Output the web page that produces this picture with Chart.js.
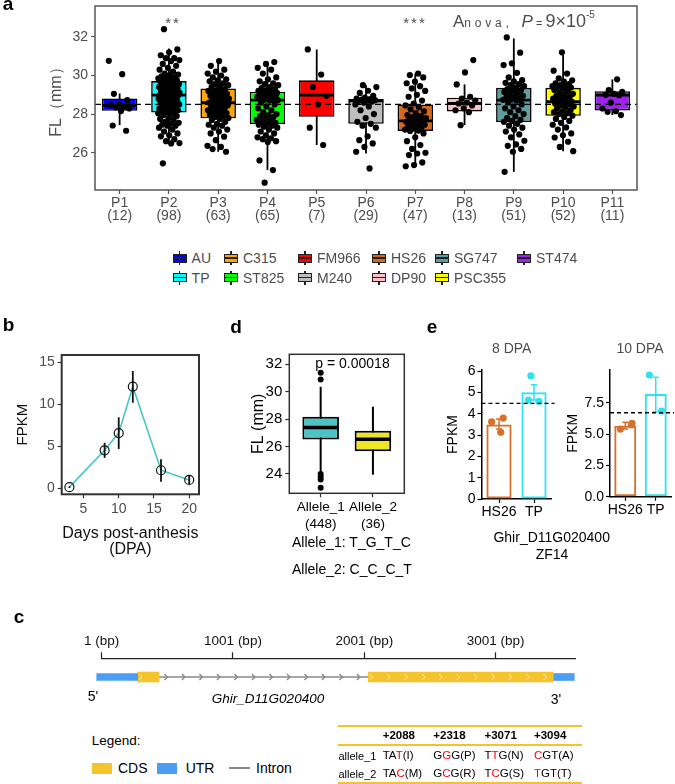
<!DOCTYPE html>
<html><head><meta charset="utf-8">
<script src="https://cdn.jsdelivr.net/npm/chart.js@4.4.1/dist/chart.umd.min.js"></script>
<style>
html,body{margin:0;padding:0;background:#fff;}
#page{position:relative;width:675px;height:784px;overflow:hidden;font-family:"Liberation Sans",Arial,Helvetica,sans-serif;color:#000;}
#page canvas{position:absolute;}
.t{position:absolute;white-space:nowrap;line-height:1;}
.c{transform:translate(-50%,-50%);}
.l{transform:translate(0,-50%);}
</style></head>
<body><div id="page">
<canvas id="cA" width="675" height="235" style="left:0;top:0"></canvas>
<canvas id="cB" width="225" height="225" style="left:0;top:335px"></canvas>
<canvas id="cD" width="200" height="200" style="left:215px;top:335px"></canvas>
<canvas id="cE1" width="120" height="190" style="left:440px;top:335px"></canvas>
<canvas id="cE2" width="115" height="190" style="left:560px;top:335px"></canvas>
<canvas id="cC" width="675" height="80" style="left:0;top:625px"></canvas>
</div>
<script>
// ---------------- DATA ----------------
// Panel a: fibre length per population
const POPS = ['P1','P2','P3','P4','P5','P6','P7','P8','P9','P10','P11'];
const POP_N = [12,98,63,65,7,29,47,13,51,52,11];
const GENOTYPES = ['AU','TP','C315','ST825','FM966','M240','HS26','DP90','SG747','PSC355','ST474'];
const BOX_Q1  = [28.17,28.09,27.78,27.48,27.86,27.50,27.13,28.14,27.59,27.91,28.19];
const BOX_MED = [28.45,28.98,28.59,28.72,28.98,28.69,27.65,28.55,28.73,28.64,28.98];
const BOX_Q3  = [28.81,29.71,29.33,29.16,29.75,28.78,28.50,28.85,29.36,29.36,29.19];
const WHISK_LO = [27.43,26.48,26.05,25.10,26.40,25.96,25.27,27.43,25.01,26.08,27.95];
const WHISK_HI = [29.07,31.40,30.75,30.66,31.35,29.50,30.10,29.54,31.92,31.20,29.80];
const FL_MEAN_LINE = 28.5;
const A_Y_TICKS = [26,28,30,32];
const fl_P1 = [30.76,30.07,29.05,28.73,28.52,28.47,28.38,28.35,28.29,28.16,27.41,27.14];
const fl_P2 = [32.4,31.35,31.2,31.05,30.9,30.9,30.8,30.75,30.6,30.5,30.4,30.3,30.2,30.1,30.05,30.0,29.95,29.9,29.9,29.85,29.8,29.8,29.75,29.72,
 29.7,29.65,29.6,29.55,29.5,29.5,29.45,29.4,29.4,29.35,29.3,29.3,29.25,29.2,29.2,29.15,29.1,29.1,29.05,29.05,29.0,29.0,28.99,28.98,28.98,
 28.95,28.9,28.85,28.8,28.8,28.75,28.7,28.7,28.65,28.6,28.55,28.5,28.5,28.45,28.4,28.4,28.35,28.3,28.3,28.25,28.2,28.15,28.15,28.1,28.1,
 28.05,28.0,27.95,27.9,27.8,27.75,27.7,27.6,27.55,27.5,27.45,27.4,27.4,27.3,27.2,27.1,27.0,26.9,26.85,26.7,26.6,26.5,26.48,25.45];
const fl_P3 = [30.75,30.5,30.3,30.2,30.1,30.0,29.9,29.8,29.75,29.7,29.6,29.55,29.5,29.45,29.4,
 29.3,29.25,29.2,29.15,29.1,29.05,29.0,28.95,28.9,28.85,28.8,28.75,28.7,28.65,28.62,28.6,
 28.55,28.5,28.45,28.4,28.35,28.3,28.25,28.2,28.15,28.1,28.05,28.0,27.95,27.9,27.85,27.8,
 27.75,27.7,27.6,27.5,27.45,27.4,27.3,27.2,27.1,27.0,26.83,26.65,26.36,26.3,26.19,26.05];
const fl_P4 = [30.7,30.6,30.4,30.3,30.1,29.9,29.8,29.7,29.6,29.55,29.5,29.4,29.35,29.3,29.25,29.2,
 29.15,29.1,29.1,29.05,29.0,29.0,28.95,28.9,28.9,28.85,28.85,28.8,28.8,28.75,28.75,28.72,
 28.7,28.6,28.5,28.4,28.3,28.2,28.1,28.0,27.95,27.9,27.85,27.8,27.7,27.65,27.6,27.55,27.5,
 27.45,27.4,27.35,27.3,27.2,27.1,27.0,26.9,26.8,26.75,26.7,26.6,26.55,25.6,25.1,24.45];
const fl_P5 = [31.35,30.05,29.4,28.95,28.5,27.3,26.4];
const fl_P6 = [29.5,29.4,29.21,29.1,28.95,28.85,28.8,28.78,28.75,28.72,28.7,28.69,28.65,28.6,28.5,28.4,28.2,28.0,27.8,27.6,27.5,27.4,27.3,26.85,26.65,26.48,26.3,26.05,25.19];
const fl_P7 = [30.1,30.02,29.9,29.68,29.6,29.45,29.33,29.2,29.0,28.9,28.7,28.55,
 28.45,28.35,28.25,28.15,28.05,27.95,27.9,27.85,27.8,27.75,27.7,27.66,
 27.64,27.6,27.55,27.5,27.45,27.4,27.35,27.3,27.25,27.2,27.15,27.13,
 27.0,26.8,26.6,26.4,26.2,26.0,25.96,25.88,25.5,25.36,25.3];
const fl_P8 = [30.8,30.16,29.54,28.9,28.8,28.7,28.6,28.55,28.45,28.3,28.2,28.1,27.43];
const fl_P9 = [31.97,31.18,30.63,30.54,30.14,29.9,29.76,29.7,29.62,29.55,29.5,29.45,29.38,
 29.3,29.25,29.2,29.15,29.1,29.0,28.95,28.9,28.85,28.8,28.76,28.74,
 28.7,28.6,28.5,28.4,28.3,28.2,28.1,28.0,27.9,27.8,27.7,27.65,27.6,
 27.5,27.4,27.3,27.2,27.1,26.95,26.8,26.62,26.43,26.36,26.2,26.05,25.01];
const fl_P10 = [31.2,30.25,30.1,29.85,29.75,29.68,29.6,29.55,29.5,29.45,29.42,29.4,29.38,
 29.3,29.25,29.2,29.1,29.05,29.0,28.95,28.9,28.85,28.8,28.75,28.7,28.65,
 28.6,28.55,28.5,28.45,28.4,28.35,28.3,28.2,28.15,28.1,28.05,28.0,27.92,
 27.85,27.75,27.65,27.55,27.45,27.31,27.2,27.0,26.9,26.79,26.57,26.3,26.08];
const fl_P11 = [29.8,29.24,29.16,29.05,29.0,28.98,28.6,28.29,28.15,28.12,27.95];
const FL_POINTS = [fl_P1,fl_P2,fl_P3,fl_P4,fl_P5,fl_P6,fl_P7,fl_P8,fl_P9,fl_P10,fl_P11];

// Panel b: expression time course
const DPA = [3,8,10,12,16,20];
const FPKM_MEAN = [0.1,4.5,6.55,12.1,2.12,0.97];
const FPKM_LO = [0.0,3.6,4.65,10.18,0.75,0.48];
const FPKM_HI = [0.2,5.4,8.44,13.96,3.42,1.47];
const B_X_TICKS = [5,10,15,20];
const B_Y_TICKS = [0,5,10,15];

// Panel d: allele box plots
const ALLELES = ['Allele_1','Allele_2'];
const ALLELE_N = [448,36];
const D_Q1 = [26.52,25.66];
const D_MED = [27.39,26.54];
const D_Q3 = [28.17,27.15];
const D_LO = [24.17,23.95];
const D_HI = [30.36,28.9];
const D_OUT_A1 = [31.39,30.9,24.0,23.8,23.6,22.99];
const D_OUT_A2 = [];
const D_Y_TICKS = [24,26,28,30,32];

// Panel e: FPKM of HS26 vs TP
const E_GROUPS = ['HS26','TP'];
const E8_MEAN = [3.5,5.02];
const E8_LO = [3.29,4.65];
const E8_HI = [3.76,5.37];
const E8_REP_HS26 = [3.63,3.8,3.13];
const E8_REP_TP = [5.79,4.65,4.59];
const E8_REF = 4.49;
const E10_MEAN = [5.67,8.2];
const E10_LO = [5.4,6.78];
const E10_HI = [5.94,9.53];
const E10_REP_HS26 = [5.4,5.75,5.86];
const E10_REP_TP = [9.71,6.84];
const E10_REF = 6.7;
const E8_Y_TICKS = [0,1,2,3,4,5,6];
const E10_Y_TICKS = [0,2.5,5,7.5];

// Panel c: gene model (bp)
const PART_TYPE  = ['UTR','CDS','intron','CDS','UTR'];
const PART_START = [-37,275,437,2031,3440];
const PART_END   = [275,437,2031,3440,3600];
const C_X_TICKS = [1,1001,2001,3001];
const SNP_POS = ['+2088','+2318','+3071','+3094'];
const ALLELE1_CODON = ['TAT(I)','GGG(P)','TTG(N)','CGT(A)'];
const ALLELE2_CODON = ['TAC(M)','GCG(R)','TCG(S)','TGT(T)'];
const SNP_IDX = [2,1,1,0];

// ---------------- STYLE ----------------
const SANS = "'Liberation Sans', Arial, Helvetica, sans-serif";
const NARROW = "'Liberation Sans Narrow', 'Arial Narrow', 'Liberation Sans', sans-serif";
const GRAY = '#4D4D4D';
const POP_COLORS = ['#0000FF','#00FFFF','#FFA500','#00FF00','#FF0000','#BEBEBE','#D2691E','#FFC0CB','#5F9EA0','#FFFF00','#A020F0'];
const D_COLORS = ['#4CC4C6','#EEE524'];
const E_COLORS = ['#D8702C','#2BE3F0'];
const CDS_COLOR = '#F5C42C', UTR_COLOR = '#4C9EF4', INTRON_COLOR = '#8A8A8A';

Chart.defaults.animation = false;
Chart.defaults.responsive = false;
Chart.defaults.devicePixelRatio = 1;
Chart.defaults.events = [];
Chart.defaults.plugins.legend.display = false;
Chart.defaults.plugins.tooltip.enabled = false;
Chart.defaults.font.family = SANS;

function fit(size){ return s => { if (s.isHorizontal()) s.height = size; else s.width = size; s.paddingTop = 0; s.paddingBottom = 0; s.paddingLeft = 0; s.paddingRight = 0; }; }
function setTicks(vals){ return s => { s.ticks = vals.map(v => ({value: v})); }; }
function framePlugin(color, width){ return {id:'frame', afterDraw(c){ const a=c.chartArea, x=c.ctx; x.save(); x.strokeStyle=color; x.lineWidth=width; x.strokeRect(a.left, a.top, a.right-a.left, a.bottom-a.top); x.restore(); }}; }
function boxPlugin(cfg){ return {id:'box',
  beforeDatasetsDraw(c){ const xs=c.scales.x, ys=c.scales.y, ctx=c.ctx; ctx.save(); ctx.strokeStyle='#000'; ctx.lineWidth=cfg.whisker;
    cfg.lo.forEach((lo,i)=>{ const px=xs.getPixelForValue(i); ctx.beginPath(); ctx.moveTo(px, ys.getPixelForValue(lo)); ctx.lineTo(px, ys.getPixelForValue(cfg.hi[i])); ctx.stroke(); });
    ctx.restore(); },
  afterDatasetDraw(c, args){ if (args.index !== cfg.boxIndex) return; const ys=c.scales.y, ctx=c.ctx; ctx.save(); ctx.strokeStyle='#000'; ctx.lineWidth=cfg.median;
    args.meta.data.forEach((bar,i)=>{ const p=bar.getProps(['x','width'], true); const py=ys.getPixelForValue(cfg.med[i]); ctx.beginPath(); ctx.moveTo(p.x-p.width/2+0.5, py); ctx.lineTo(p.x+p.width/2-0.5, py); ctx.stroke(); });
    if (cfg.ref != null) { const a=c.chartArea, py=ys.getPixelForValue(cfg.ref); ctx.lineWidth=1.3; ctx.setLineDash([6,4]); ctx.beginPath(); ctx.moveTo(a.left, py); ctx.lineTo(a.right, py); ctx.stroke(); }
    ctx.restore(); } }; }
function errPlugin(cfg){ return {id:'err', afterDatasetsDraw(c){ const xs=c.scales.x, ys=c.scales.y, ctx=c.ctx; ctx.save(); ctx.lineWidth=cfg.width;
    cfg.x.forEach((xv,i)=>{ const px=xs.getPixelForValue(xv), y0=ys.getPixelForValue(cfg.lo[i]), y1=ys.getPixelForValue(cfg.hi[i]); ctx.strokeStyle=cfg.colors[i];
      ctx.beginPath(); ctx.moveTo(px,y0); ctx.lineTo(px,y1);
      if (cfg.cap) { ctx.moveTo(px-cfg.cap,y0); ctx.lineTo(px+cfg.cap,y0); ctx.moveTo(px-cfg.cap,y1); ctx.lineTo(px+cfg.cap,y1); }
      ctx.stroke(); });
    if (cfg.ref != null) { const a=c.chartArea, py=ys.getPixelForValue(cfg.ref); ctx.strokeStyle='#000'; ctx.lineWidth=1.3; ctx.setLineDash([4,3]); ctx.beginPath(); ctx.moveTo(a.left, py); ctx.lineTo(a.right+3, py); ctx.stroke(); }
    ctx.restore(); }}; }
const tickGrid = (col, len) => ({display:true, drawOnChartArea:false, drawTicks:true, tickLength:len, tickColor:col, tickWidth:1.2, offset:false});

// ---------------- PANEL a ----------------
const jit = (i,j) => (((j*0.6180339887 + i*0.2718) % 1) - 0.5) * 0.44;
const aPoints = [];
FL_POINTS.forEach((arr,i)=>arr.forEach((v,j)=>aPoints.push({x: i + jit(i,j), y: v})));
new Chart(document.getElementById('cA'), {
  type:'bar',
  data:{datasets:[
    {type:'scatter', data:aPoints, pointRadius:3.1, pointBackgroundColor:'#000', pointBorderWidth:0, order:0},
    {type:'bar', data:BOX_Q1.map((q,i)=>({x:i, y:[q, BOX_Q3[i]]})), backgroundColor:POP_COLORS, borderColor:'#000', borderWidth:1.6, borderSkipped:false, barPercentage:0.72, categoryPercentage:1, order:1}
  ]},
  options:{
    layout:{padding:{left:0,right:38,top:6,bottom:0}},
    scales:{
      x:{type:'linear', offset:false, min:-0.5, max:10.5, afterFit:fit(45), afterBuildTicks:setTicks(POPS.map((_,i)=>i)),
        ticks:{callback:v=>[POPS[v], '('+POP_N[v]+')'], color:GRAY, font:{family:NARROW,size:14,lineHeight:0.95}, padding:2, autoSkip:false, maxRotation:0},
        grid:tickGrid('#555',4), border:{display:false}},
      y:{type:'linear', min:24.07, max:33.6, afterFit:fit(95), afterBuildTicks:setTicks(A_Y_TICKS),
        ticks:{color:GRAY, font:{family:NARROW,size:14}, padding:3},
        grid:tickGrid('#555',4), border:{display:false},
        title:{display:true, text:'FL（mm）', color:GRAY, font:{size:16}, padding:{top:47,bottom:0}}}
    }
  },
  plugins:[boxPlugin({lo:WHISK_LO, hi:WHISK_HI, med:BOX_MED, boxIndex:1, whisker:1.8, median:2.8, ref:FL_MEAN_LINE}), framePlugin('#555',1.5)]
});

// ---------------- PANEL b ----------------
new Chart(document.getElementById('cB'), {
  type:'line',
  data:{datasets:[{data:DPA.map((d,i)=>({x:d, y:FPKM_MEAN[i]})), borderColor:'#48C4C8', borderWidth:1.6, pointRadius:4.5,
    pointBackgroundColor:'rgba(0,0,0,0)', pointBorderColor:'#111', pointBorderWidth:1.2, tension:0, fill:false}]},
  options:{
    layout:{padding:{left:0,right:26,top:20,bottom:0}},
    scales:{
      x:{type:'linear', offset:false, min:1.91, max:21.39, afterFit:fit(65.7), afterBuildTicks:setTicks(B_X_TICKS),
        ticks:{color:GRAY, font:{size:14}, padding:2, maxRotation:0}, grid:tickGrid('#333',4), border:{display:false},
        title:{display:true, text:['Days post-anthesis','(DPA)'], color:'#111', font:{size:16,lineHeight:1.05}, padding:{top:0,bottom:1.6}}},
      y:{type:'linear', min:-0.75, max:15.87, afterFit:fit(61.7), afterBuildTicks:setTicks(B_Y_TICKS),
        ticks:{color:GRAY, font:{size:14}, padding:3}, grid:tickGrid('#333',4), border:{display:false},
        title:{display:true, text:'FPKM', color:'#111', font:{size:15}, padding:{top:14,bottom:0}}}
    }
  },
  plugins:[errPlugin({x:DPA, lo:FPKM_LO, hi:FPKM_HI, colors:DPA.map(()=> '#111'), width:1.8, cap:0}), framePlugin('#333',2)]
});

// ---------------- PANEL d ----------------
const dOut = [];
D_OUT_A1.forEach(v=>dOut.push({x:0, y:v}));
D_OUT_A2.forEach(v=>dOut.push({x:1, y:v}));
new Chart(document.getElementById('cD'), {
  type:'bar',
  data:{datasets:[
    {type:'scatter', data:dOut, pointRadius:3, pointBackgroundColor:'#000', pointBorderWidth:0, order:0},
    {type:'bar', data:D_Q1.map((q,i)=>({x:i, y:[q, D_Q3[i]]})), backgroundColor:D_COLORS, borderColor:'#000', borderWidth:2, borderSkipped:false, barPercentage:0.7, categoryPercentage:1, order:1}
  ]},
  options:{
    layout:{padding:{left:0,right:10.7,top:19.3,bottom:0}},
    scales:{
      x:{type:'linear', offset:false, min:-0.6, max:1.6, afterFit:fit(41.7), afterBuildTicks:setTicks([0,1]),
        ticks:{callback:v=>[ALLELES[v], '('+ALLELE_N[v]+')'], color:'#000', font:{size:13.5,lineHeight:1.3}, padding:1, autoSkip:false, maxRotation:0},
        grid:tickGrid('#333',4), border:{display:false}},
      y:{type:'linear', min:22.59, max:32.73, afterFit:fit(74.3), afterBuildTicks:setTicks(D_Y_TICKS),
        ticks:{color:'#000', font:{size:15}, padding:3}, grid:tickGrid('#333',4), border:{display:false},
        title:{display:true, text:'FL (mm)', color:'#000', font:{size:16}, padding:{top:34,bottom:0}}}
    }
  },
  plugins:[boxPlugin({lo:D_LO, hi:D_HI, med:D_MED, boxIndex:1, whisker:2, median:3.5}), framePlugin('#333',1.5)]
});

// ---------------- PANEL e ----------------
const repOffsets8 = [[-0.21,0.12,0.05],[-0.09,-0.16,0.14]];
const repOffsets10 = [[-0.16,0.2,0.22],[-0.21,0.19]];
function ePoints(reps, offs){ const pts=[], cols=[]; reps.forEach((arr,g)=>arr.forEach((v,j)=>{ pts.push({x:g+offs[g][j], y:v}); cols.push(E_COLORS[g]); })); return {pts, cols}; }
function eChart(id, mean, lo, hi, reps, offs, ref, yMax, yTicks, fmt, geo){
  const p = ePoints(reps, offs);
  new Chart(document.getElementById(id), {
    type:'bar',
    data:{datasets:[
      {type:'scatter', data:p.pts, pointRadius:3.6, pointBackgroundColor:p.cols, pointBorderWidth:0, order:0},
      {type:'bar', data:mean.map((m,i)=>({x:i, y:m})), backgroundColor:'rgba(255,255,255,0)', borderColor:E_COLORS, borderWidth:2, borderSkipped:false, barPercentage:0.72, categoryPercentage:1, order:1}
    ]},
    options:{
      layout:{padding:{left:0,right:geo.right,top:geo.top,bottom:0}},
      scales:{
        x:{type:'linear', offset:false, min:-0.5, max:1.5, afterFit:fit(geo.xh), afterBuildTicks:setTicks([0,1]),
          ticks:{callback:v=>E_GROUPS[v], color:'#000', font:{size:14}, padding:1, autoSkip:false, maxRotation:0}, grid:tickGrid('#000',4), border:{display:true,color:'#000',width:1.5}},
        y:{type:'linear', min:0, max:yMax, afterFit:fit(geo.yw), afterBuildTicks:setTicks(yTicks),
          ticks:{callback:fmt, color:'#000', font:{size:14}, padding:2}, grid:tickGrid('#000',4), border:{display:true,color:'#000',width:1.5},
          title:{display:true, text:'FPKM', color:'#000', font:{size:14}, padding:{top:4.6,bottom:0}}}
      }
    },
    plugins:[errPlugin({x:[0,1], lo, hi, colors:E_COLORS, width:1.5, cap:3, ref})]
  });
}
eChart('cE1', E8_MEAN, E8_LO, E8_HI, [E8_REP_HS26,E8_REP_TP], repOffsets8, E8_REF, 6.06, E8_Y_TICKS, v=>String(v), {right:8.5, top:35, xh:26, yw:41.5});
eChart('cE2', E10_MEAN, E10_LO, E10_HI, [E10_REP_HS26,E10_REP_TP], repOffsets10, E10_REF, 10.11, E10_Y_TICKS, v=>v.toFixed(1), {right:3, top:35, xh:28.3, yw:50});

// ---------------- PANEL c ----------------
const geneSets = [];
PART_TYPE.forEach((t,i)=>{ if (t==='intron') return; geneSets.push({data:[[PART_START[i], PART_END[i]]], backgroundColor: t==='CDS'?CDS_COLOR:UTR_COLOR, barThickness: t==='CDS'?10:7, grouped:false, clip:false, borderWidth:0}); });
function chevron(ctx, cx, cy){ ctx.beginPath(); ctx.moveTo(cx-1.5, cy-3); ctx.lineTo(cx+1.5, cy); ctx.lineTo(cx-1.5, cy+3); ctx.stroke(); }
const genePlugin = {id:'gene',
  beforeDatasetsDraw(c){ const xs=c.scales.x, ys=c.scales.y, ctx=c.ctx, cy=ys.getPixelForValue(0); ctx.save(); ctx.strokeStyle=INTRON_COLOR; ctx.lineWidth=1.4;
    PART_TYPE.forEach((t,i)=>{ if (t!=='intron') return; const x0=xs.getPixelForValue(PART_START[i]), x1=xs.getPixelForValue(PART_END[i]);
      ctx.beginPath(); ctx.moveTo(x0,cy); ctx.lineTo(x1,cy); ctx.stroke();
      for (let px=x0+7; px<x1-3; px+=17.5) chevron(ctx, px, cy); });
    ctx.restore(); },
  afterDatasetsDraw(c){ const xs=c.scales.x, ys=c.scales.y, ctx=c.ctx, cy=ys.getPixelForValue(0); ctx.save(); ctx.strokeStyle='#FFF0C0'; ctx.lineWidth=0.9;
    PART_TYPE.forEach((t,i)=>{ if (t!=='CDS') return; const x0=xs.getPixelForValue(PART_START[i]), x1=xs.getPixelForValue(PART_END[i]);
      for (let px=x0+3; px<x1-4; px+=17.4) chevron(ctx, px, cy); });
    ctx.restore(); }};
new Chart(document.getElementById('cC'), {
  type:'bar',
  data:{labels:['gene'], datasets:geneSets},
  options:{
    indexAxis:'y',
    layout:{padding:{left:101.7,right:100,top:0,bottom:9.3}},
    scales:{
      x:{type:'linear', offset:false, position:'top', min:1, max:3606, afterFit:fit(33.3), afterBuildTicks:setTicks(C_X_TICKS),
        ticks:{callback:v=>v+' (bp)', color:'#111', font:{size:13.5}, padding:3, maxRotation:0}, grid:tickGrid('#222',6), border:{display:true,color:'#222',width:1.2}},
      y:{type:'category', display:false}
    }
  },
  plugins:[genePlugin]
});

// ---------------- TEXT ----------------
const page = document.getElementById('page');
function txt(html, x, y, style, anchor){ const d=document.createElement('div'); d.className='t '+(anchor||'c'); d.style.left=x+'px'; d.style.top=y+'px'; Object.assign(d.style, style||{}); d.innerHTML=html; page.appendChild(d); return d; }
function box(x, y, w, h, style){ const d=document.createElement('div'); d.style.position='absolute'; d.style.left=x+'px'; d.style.top=y+'px'; d.style.width=w+'px'; d.style.height=h+'px'; Object.assign(d.style, style||{}); page.appendChild(d); return d; }

// panel labels
txt('a', 8, 3, {fontWeight:'bold', fontSize:'19px'});
txt('b', 8.5, 324, {fontWeight:'bold', fontSize:'19px'});
txt('d', 236, 326, {fontWeight:'bold', fontSize:'19px'});
txt('e', 432, 326, {fontWeight:'bold', fontSize:'19px'});
txt('c', 19, 615.5, {fontWeight:'bold', fontSize:'19px'});

// panel a annotations
txt('**', 173, 22, {fontSize:'15px', color:GRAY, letterSpacing:'2px'});
txt('***', 415, 22, {fontSize:'15px', color:GRAY, letterSpacing:'2px'});
txt('<span style="font-size:17px">A</span><span style="font-size:12px;letter-spacing:3.8px">nova,</span>&nbsp; <i style="font-size:17px">P</i><span style="font-size:11px"> = </span><span style="font-size:18px">9×10</span><sup style="font-size:10px;position:relative;top:-2px">-5</sup>', 453, 20.7, {color:GRAY}, 'l');

// panel a legend
const LEG_COL_X = [172.6, 224, 298, 372, 435, 517];
const LEG_ROW_Y = [258, 277.5];
GENOTYPES.forEach((g,k)=>{
  const col=Math.floor(k/2), row=k%2, x=LEG_COL_X[col], y=LEG_ROW_Y[row];
  box(x+6.3, y-7, 1.4, 14, {background:'#222'});
  box(x, y-4.5, 12, 7, {background:POP_COLORS[k], border:'1px solid #222'});
  box(x+1, y-0.6, 12, 1.3, {background:'#222'});
  txt(g, x+19, y, {fontFamily:NARROW, fontSize:'14px', color:GRAY}, 'l');
});

// panel d texts
txt('p = 0.00018', 352.5, 363, {fontSize:'14px'});
txt('Allele_1: T_G_T_C', 292, 542, {fontSize:'14px'}, 'l');
txt('Allele_2: C_C_C_T', 292, 568.5, {fontSize:'14px'}, 'l');

// panel e texts
txt('8 DPA', 511.7, 348, {fontSize:'14px', color:GRAY});
txt('10 DPA', 640, 348, {fontSize:'14px', color:GRAY});
txt('Ghir_D11G020400', 551.7, 537, {fontSize:'14px'});
txt('ZF14', 552, 553.5, {fontSize:'14px'});

// panel c texts
txt("5'", 93, 695.5, {fontSize:'14px'});
txt("3'", 556, 699, {fontSize:'14px'});
txt('Ghir_D11G020400', 268, 699, {fontSize:'13.5px', fontStyle:'italic'});
txt('Legend:', 91.7, 740.5, {fontSize:'13.5px'}, 'l');
const LEG_C = [['CDS', CDS_COLOR, 91.7, 118], ['UTR', UTR_COLOR, 157, 185.7]];
LEG_C.forEach(([lab, col, bx, tx])=>{ box(bx, 763, 20, 10.7, {background:col}); txt(lab, tx, 768.3, {fontSize:'14px'}, 'l'); });
box(228.7, 767.3, 21.3, 2, {background:INTRON_COLOR});
txt('Intron', 256, 767.5, {fontSize:'14px'}, 'l');

// table
[726, 745, 782.5].forEach(y=>box(338, y-1, 244, 2, {background:CDS_COLOR}));
const COL_X = [382.7, 433.3, 484.5, 534];
SNP_POS.forEach((s,i)=>txt(s, COL_X[i], 736, {fontSize:'11.5px', fontWeight:'bold'}, 'l'));
function codonHtml(c, k){ return c.split('').map((ch,i)=> i===k ? '<span style="color:#FF0000">'+ch+'</span>' : ch).join(''); }
txt('allele_1', 338.5, 755.7, {fontSize:'11px'}, 'l');
txt('allele_2', 338.5, 774.3, {fontSize:'11px'}, 'l');
ALLELE1_CODON.forEach((c,i)=>txt(codonHtml(c, SNP_IDX[i]), COL_X[i], 755.7, {fontSize:'11.5px'}, 'l'));
ALLELE2_CODON.forEach((c,i)=>txt(codonHtml(c, SNP_IDX[i]), COL_X[i], 774.3, {fontSize:'11.5px'}, 'l'));
</script>
</body></html>
